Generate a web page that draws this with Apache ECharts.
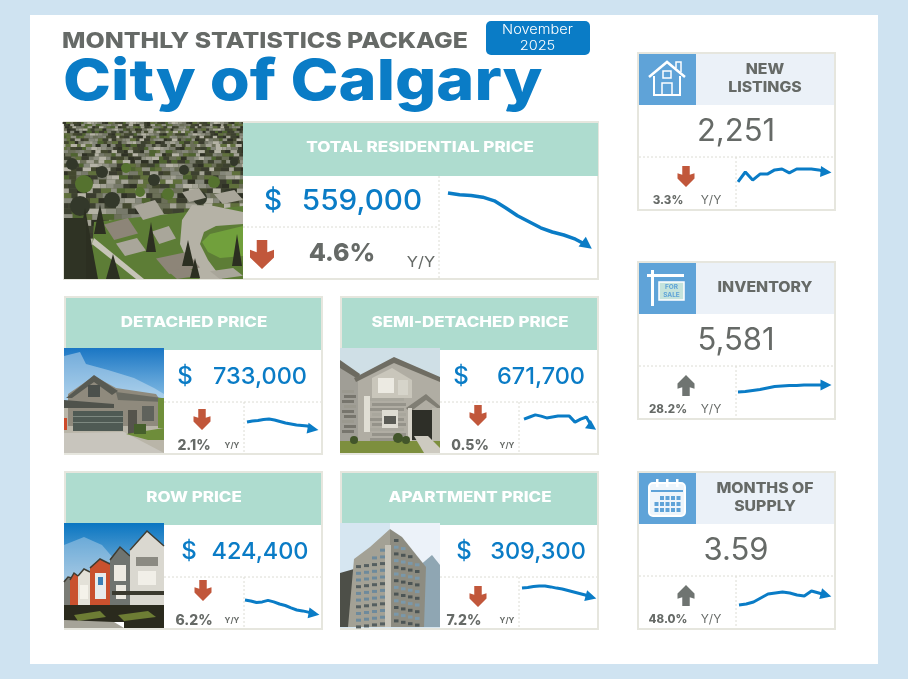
<!DOCTYPE html>
<html>
<head>
<meta charset="utf-8">
<style>
	html, body { margin: 0; padding: 0; background: #cfe3f1; }
	#chart { width: 908px; height: 679px; }
</style>
</head>
<body>
<div id="chart"></div>
<script src="https://cdn.jsdelivr.net/npm/echarts@6/dist/echarts.min.js"></script>
<script>
const months = ['Nov', 'Dec', 'Jan', 'Feb', 'Mar', 'Apr', 'May', 'Jun', 'Jul', 'Aug', 'Sep', 'Oct', 'Nov']

// trend lines have no printed scale, so these are levels read off each sparkline (0-100 of its box)
const totalTrend = [95, 92, 91, 88, 82, 70, 57, 47, 37, 30, 25, 18, 8]
const detachedTrend = [52, 56, 58, 62, 64, 60, 54, 48, 44, 40, 38, 36, 24]
const semiTrend = [53, 60, 67, 63, 57, 60, 63, 63, 63, 43, 53, 60, 27]
const rowTrend = [83, 80, 75, 77, 82, 77, 70, 65, 57, 50, 47, 43, 37]
const apartmentTrend = [73, 75, 78, 80, 80, 77, 73, 70, 65, 60, 55, 50, 43]
const listingsTrend = [27, 60, 33, 53, 53, 67, 70, 57, 70, 70, 70, 67, 60]
const inventoryTrend = [32, 34, 38, 42, 48, 54, 56, 58, 58, 60, 60, 60, 60]
const supplyTrend = [20, 24, 32, 48, 64, 68, 72, 68, 60, 56, 76, 68, 60]

const priceTitles = ['DETACHED PRICE', 'SEMI-DETACHED PRICE', 'ROW PRICE', 'APARTMENT PRICE']
const priceValues = ['733,000', '671,700', '424,400', '309,300']
const priceChanges = ['2.1%', '0.5%', '6.2%', '7.2%']

const statTitles = [['NEW', 'LISTINGS'], ['INVENTORY'], ['MONTHS OF', 'SUPPLY']]
const statValues = ['2,251', '5,581', '3.59']
const statChanges = ['3.3%', '28.2%', '48.0%']
const statDirections = ['down', 'up', 'up']

const BLUE = '#0a7cc6'
const GREY = '#666a67'
const RED = '#c1573b'
const TEAL = '#aedccf'
const RULE = '#dcdcd4'
const SANS = 'Inter, "Noto Sans", sans-serif'

const els = []

const rect = (x, y, width, height, fill, extra = {}) => {
	els.push({ type: 'rect', silent: true, shape: { x, y, width, height, r: extra.r || 0 }, style: { fill, stroke: extra.stroke, lineWidth: extra.lineWidth } })
}
const poly = (points, fill, opacity = 1) => {
	els.push({ type: 'polygon', silent: true, shape: { points }, style: { fill, opacity } })
}
const blob = (cx, cy, r, fill) => {
	els.push({ type: 'circle', silent: true, shape: { cx, cy, r }, style: { fill } })
}
const rule = (x1, y1, x2, y2) => {
	els.push({ type: 'line', silent: true, shape: { x1, y1, x2, y2 }, style: { stroke: RULE, lineWidth: 1, lineDash: [2, 2] } })
}
const stroke = (points, color, lineWidth = 2) => {
	els.push({ type: 'polyline', silent: true, shape: { points }, style: { stroke: color, lineWidth, fill: null } })
}
// sx stretches the glyphs, the original typeface is wider than anything installed
const text = (x, y, str, font, fill, textAlign = 'center', sx = 1) => {
	els.push({ type: 'text', silent: true, x, y: y + 1.5, scaleX: sx, style: { x: 0, y: 0, text: str, font, fill, textAlign, textVerticalAlign: 'middle' } })
}
const gradRect = (x, y, width, height, top, bottom) => {
	rect(x, y, width, height, { type: 'linear', x: 0, y: 0, x2: 0, y2: 1, colorStops: [{ offset: 0, color: top }, { offset: 1, color: bottom }] })
}

const bigArrow = (cx, top, w, h, direction, color) => {
	const s = w * 0.22
	const pts = [
		[cx - s, 0],
		[cx + s, 0],
		[cx + s, 0.42],
		[cx + w / 2, 0.34],
		[cx + w / 2, 0.6],
		[cx, 1],
		[cx - w / 2, 0.6],
		[cx - w / 2, 0.34],
		[cx - s, 0.42],
	]
	poly(pts.map((p) => [p[0], direction === 'down' ? top + p[1] * h : top + h - p[1] * h]), color)
}

// ---- photo sketches ----
const aerialPhoto = (x, y, w, h) => {
	rect(x, y, w, h, '#565c42')
	const tones = ['#3a3c2e', '#85877a', '#60703c', '#a3a295', '#43482f', '#77796a', '#4f6430', '#2f3125', '#b4b2a5', '#6b6f58', '#8f9082', '#3d4130']
	let top = 0
	let row = 0
	while (top < h) {
		const size = 2.6 + top * 0.05
		let dx = (row * 3) % 5 - 4
		let col = 0
		while (dx < w) {
			const tone = tones[(col * 7 + row * 11 + (col * row) % 5) % tones.length]
			const cw = size * (1 + ((col + row * 2) % 3) * 0.35)
			const left = Math.max(dx, 0)
			rect(x + left, y + top, Math.min(dx + cw, w) - left, Math.min(size * 0.8, h - top), tone)
			dx += cw
			col++
		}
		top += size * 0.8
		row++
	}
	// scattered tree canopies through the neighbourhood
	const canopies = [[20, 62, 9], [38, 50, 6], [8, 42, 6], [62, 46, 5], [90, 58, 6], [120, 48, 5], [150, 60, 6], [170, 40, 4], [48, 78, 8], [104, 72, 6], [136, 76, 7], [16, 84, 10], [76, 70, 5], [164, 72, 5]]
	canopies.forEach((c, i) => blob(x + c[0], y + c[1], c[2], i % 3 === 0 ? '#55722f' : '#33382a'))
	// lawn, crescent road and big roofs in the foreground
	poly([[x + 30, y + 100], [x + 179, y + 84], [x + 179, y + 157], [x + 26, y + 157]], '#5d7d36')
	poly([[x + 128, y + 83], [x + 150, y + 84], [x + 179, y + 90], [x + 179, y + 102], [x + 152, y + 104], [x + 140, y + 110], [x + 136, y + 122], [x + 144, y + 138], [x + 158, y + 157], [x + 136, y + 157], [x + 124, y + 140], [x + 116, y + 122], [x + 118, y + 98]], '#b5b2a6')
	poly([[x + 138, y + 120], [x + 146, y + 112], [x + 179, y + 104], [x + 179, y + 134], [x + 156, y + 136], [x + 144, y + 130]], '#71a03c')
	const roofs = [[70, 78, 30, 20], [40, 96, 34, 22], [52, 116, 30, 18], [88, 104, 24, 18], [92, 130, 44, 22], [118, 66, 24, 14], [150, 68, 29, 14], [104, 146, 30, 11], [146, 146, 33, 11]]
	roofs.forEach((r, i) => {
		poly([[x + r[0], y + r[1] + r[3] * 0.3], [x + r[0] + r[2] * 0.7, y + r[1]], [x + r[0] + r[2], y + r[1] + r[3] * 0.7], [x + r[0] + r[2] * 0.3, y + r[1] + r[3]]], i % 3 === 1 ? '#8d8578' : '#a9a69a')
	})
	poly([[x + 30, y + 116], [x + 80, y + 157], [x + 72, y + 157], [x + 28, y + 122]], '#c7c4b8')
	const trees = [[8, 86, 26, 71], [30, 82, 12, 30], [82, 100, 10, 30], [118, 118, 12, 26], [168, 112, 10, 32], [42, 132, 14, 25], [126, 136, 10, 20]]
	trees.forEach((t) => {
		poly([[x + t[0] + t[2] / 2, y + t[1]], [x + t[0] + t[2], y + t[1] + t[3]], [x + t[0], y + t[1] + t[3]]], '#2c2f21')
	})
	rect(x, y + 96, 22, 61, '#2f3324')
}

const detachedPhoto = (x, y, w, h) => {
	gradRect(x, y, w, 62, '#1a76c4', '#9ccbea')
	poly([[x, y + 8], [x + 16, y + 4], [x + 22, y + 16], [x + 44, y + 22], [x + 70, y + 30], [x + 90, y + 40], [x + 100, y + 46], [x + 100, y + 60], [x, y + 60]], '#d9e9f4', 0.45)
	rect(x, y + 58, w, 47, '#b9b5a8')
	poly([[x + 4, y + 46], [x + 30, y + 28], [x + 52, y + 40], [x + 92, y + 46], [x + 100, y + 58], [x + 100, y + 78], [x + 4, y + 78]], '#8f8a7d')
	poly([[x + 2, y + 50], [x + 30, y + 27], [x + 54, y + 43], [x + 48, y + 47], [x + 30, y + 34], [x + 8, y + 50]], '#585a52')
	poly([[x + 52, y + 44], [x + 98, y + 50], [x + 100, y + 54], [x + 54, y + 52]], '#6a6b62')
	poly([[x, y + 52], [x + 50, y + 56], [x + 50, y + 60], [x, y + 60]], '#4f524b')
	rect(x + 24, y + 37, 12, 12, '#4b504c')
	rect(x + 9, y + 63, 50, 20, '#4f5a54')
	rect(x + 9, y + 68, 50, 1, '#7d8880')
	rect(x + 9, y + 74, 50, 1, '#7d8880')
	rect(x + 64, y + 62, 9, 24, '#55544c')
	rect(x + 78, y + 58, 12, 15, '#5f625c')
	rect(x + 94, y + 50, 6, 30, '#6f8f3a')
	poly([[x, y + 85], [x + 60, y + 84], [x + 100, y + 105], [x, y + 105]], '#c8c5bd')
	poly([[x + 62, y + 86], [x + 100, y + 80], [x + 100, y + 92], [x + 84, y + 92]], '#6e8d3a')
	rect(x + 70, y + 76, 12, 10, '#46602c')
	rect(x, y + 70, 3, 12, '#cc4a2a')
}

const semiPhoto = (x, y, w, h) => {
	rect(x, y, w, h, '#cfdfe6')
	poly([[x + 16, y + 30], [x + 54, y + 10], [x + 100, y + 30], [x + 100, y + 95], [x + 16, y + 95]], '#b0ada3')
	poly([[x, y + 16], [x + 18, y + 28], [x + 18, y + 95], [x, y + 95]], '#a09e96')
	poly([[x, y + 12], [x + 20, y + 26], [x + 18, y + 31], [x, y + 20]], '#6c6a60')
	poly([[x + 14, y + 30], [x + 54, y + 9], [x + 100, y + 29], [x + 100, y + 34], [x + 54, y + 15], [x + 16, y + 34]], '#6f6d63')
	poly([[x + 32, y + 30], [x + 52, y + 20], [x + 72, y + 32], [x + 72, y + 50], [x + 32, y + 50]], '#c9c6bb')
	for (let i = 0; i < 9; i++) {
		rect(x + 30 + (i % 2) * 2, y + 50 + i * 5, 34, 3, i % 3 ? '#95938a' : '#a9a79d')
		rect(x + 2 + (i % 2) * 2, y + 42 + i * 5, 12, 3, i % 3 ? '#77756d' : '#9b998f')
	}
	rect(x + 38, y + 30, 16, 15, '#eceae2')
	rect(x + 58, y + 32, 10, 15, '#d6d4ca')
	rect(x + 42, y + 62, 16, 18, '#dedcd2')
	rect(x + 44, y + 68, 12, 8, '#5a5b55')
	rect(x + 24, y + 48, 6, 36, '#e0ded4')
	poly([[x + 66, y + 60], [x + 86, y + 46], [x + 100, y + 58], [x + 100, y + 62], [x + 86, y + 52], [x + 70, y + 64]], '#807e74')
	rect(x + 72, y + 62, 20, 30, '#2e2f28')
	rect(x + 68, y + 60, 4, 34, '#d5d2c8')
	rect(x + 92, y + 60, 8, 34, '#b9b7ac')
	rect(x, y + 93, w, 12, '#7d8f3e')
	poly([[x + 74, y + 88], [x + 88, y + 88], [x + 100, y + 100], [x + 100, y + 105], [x + 84, y + 105]], '#cdcac0')
	blob(x + 14, y + 92, 4, '#42552a')
	blob(x + 58, y + 90, 5, '#42552a')
	blob(x + 66, y + 92, 4, '#42552a')
}

const rowPhoto = (x, y, w, h) => {
	gradRect(x, y, w, 60, '#0a76c2', '#8cbadb')
	poly([[x, y + 22], [x + 20, y + 14], [x + 38, y + 22], [x + 50, y + 36], [x + 30, y + 50], [x, y + 56]], '#cfe2f0', 0.4)
	// units step down toward the left, nearest house on the right
	const units = [
		{ l: 0, r: 8, top: 58, peak: 54, color: '#7a7c76' },
		{ l: 6, r: 14, top: 56, peak: 50, color: '#c9512e' },
		{ l: 14, r: 26, top: 52, peak: 46, color: '#e3e1d8' },
		{ l: 26, r: 46, top: 44, peak: 36, color: '#c9512e' },
		{ l: 46, r: 66, top: 36, peak: 24, color: '#6f7470' },
		{ l: 66, r: 100, top: 26, peak: 8, color: '#dad8d0' },
	]
	units.forEach((u) => {
		const mid = (u.l + u.r) / 2
		poly([[x + u.l, y + u.top], [x + mid, y + u.peak], [x + u.r, y + u.top - 3], [x + u.r, y + 86], [x + u.l, y + 86]], u.color)
		stroke([[x + u.l, y + u.top + 1], [x + mid, y + u.peak], [x + u.r, y + u.top - 3]], '#3e3c32', 1.5)
	})
	rect(x + 31, y + 50, 11, 26, '#e8ecec')
	rect(x + 34, y + 54, 5, 8, '#3a7fb5')
	rect(x + 50, y + 42, 12, 16, '#eceae2')
	rect(x + 52, y + 62, 10, 14, '#eceae2')
	rect(x + 72, y + 34, 22, 9, '#8b8a82')
	rect(x + 74, y + 48, 18, 14, '#f1efe8')
	rect(x + 48, y + 68, 52, 4, '#3a3a2f')
	rect(x + 16, y + 62, 8, 14, '#f4f2ea')
	rect(x, y + 82, w, 17, '#2a2a1d')
	poly([[x + 10, y + 92], [x + 36, y + 88], [x + 42, y + 94], [x + 14, y + 98]], '#6d7d34')
	poly([[x + 54, y + 92], [x + 84, y + 88], [x + 92, y + 94], [x + 60, y + 98]], '#6d7d34')
	poly([[x, y + 97], [x + 50, y + 99], [x + 60, y + 105], [x, y + 105]], '#a5a398')
	rect(x + 60, y + 99, 40, 6, '#2a2a1d')
}

const apartmentPhoto = (x, y, w, h) => {
	rect(x, y, w, h, '#d6e6f1')
	rect(x + 50, y, 50, 44, '#ecf2f9')
	poly([[x + 78, y + 44], [x + 92, y + 32], [x + 100, y + 42], [x + 100, y + 104], [x + 78, y + 104]], '#8fa6b3')
	poly([[x, y + 50], [x + 14, y + 46], [x + 14, y + 104], [x, y + 104]], '#4d4f48')
	poly([[x + 14, y + 36], [x + 30, y + 24], [x + 50, y + 6], [x + 50, y + 104], [x + 8, y + 104]], '#a3a195')
	poly([[x + 50, y + 6], [x + 62, y + 14], [x + 86, y + 44], [x + 84, y + 104], [x + 50, y + 104]], '#8d8c81')
	// window grid on the two visible faces
	for (let f = 0; f < 13; f++) {
		const ly = y + 18 + f * 6.7
		for (let c = 0; c < 4; c++) {
			const lx = x + 16 + c * 8
			if (ly > y + 38 - c * 6) rect(lx, ly + 4 - c, 5, 3, f % 3 ? '#6d8a9c' : '#555f60')
		}
		for (let c = 0; c < 4; c++) {
			const rx = x + 54 + c * 7
			if (ly > y + 12 + c * 8) rect(rx, ly - 2 + c * 1.4, 4.5, 3, f % 2 ? '#7a98aa' : '#4c5555')
		}
	}
	rect(x + 45, y + 22, 6, 82, '#c7c4b9')
}

// ---- small pictograms for the stat cards ----
const houseIcon = (x, y) => {
	const c = '#ffffff'
	stroke([[x + 10, y + 23], [x + 28, y + 8], [x + 46, y + 23]], c, 2.5)
	stroke([[x + 15, y + 22], [x + 15, y + 41], [x + 41, y + 41], [x + 41, y + 22]], c, 2)
	stroke([[x + 37, y + 14], [x + 37, y + 8], [x + 42, y + 8], [x + 42, y + 18]], c, 1.5)
	els.push({ type: 'rect', silent: true, shape: { x: x + 24, y: y + 17, width: 8, height: 7 }, style: { fill: null, stroke: c, lineWidth: 1.5 } })
	els.push({ type: 'rect', silent: true, shape: { x: x + 23, y: y + 29, width: 10, height: 12 }, style: { fill: null, stroke: c, lineWidth: 1.5 } })
}
const saleIcon = (x, y) => {
	const c = '#ffffff'
	rect(x + 12, y + 7, 3, 36, c)
	rect(x + 8, y + 11, 37, 3, c)
	rect(x + 20, y + 19, 25, 18, '#c4e3dc', { stroke: c, lineWidth: 1.5 })
	els.push({ type: 'text', silent: true, style: { x: x + 32.5, y: y + 24, text: 'FOR', font: 'bold 6.5px ' + SANS, fill: '#5fa3d8', textAlign: 'center', textVerticalAlign: 'middle' } })
	els.push({ type: 'text', silent: true, style: { x: x + 32.5, y: y + 32, text: 'SALE', font: 'bold 6.5px ' + SANS, fill: '#5fa3d8', textAlign: 'center', textVerticalAlign: 'middle' } })
}
const calendarIcon = (x, y) => {
	const c = '#ffffff'
	els.push({ type: 'rect', silent: true, shape: { x: x + 10, y: y + 10, width: 36, height: 33, r: 4 }, style: { fill: '#eef5fb', stroke: c, lineWidth: 2 } })
	rect(x + 12, y + 17, 32, 2, '#5fa3d8')
	;[18, 28, 38].forEach((cx) => rect(x + cx - 1, y + 6, 2.5, 8, c))
	for (let i = 0; i < 5; i++) {
		for (let j = 0; j < 3; j++) {
			if (i > 0 || j > 0) rect(x + 15.5 + i * 5.5, y + 23 + j * 6, 4, 4, '#5fa3d8')
		}
	}
}

// ---- page frame and header ----
rect(30, 15, 848, 649, '#ffffff')
text(62, 40, 'MONTHLY STATISTICS PACKAGE', '800 22px ' + SANS, GREY, 'left', 1.13)
text(63, 81, 'City of Calgary', '800 57px ' + SANS, BLUE, 'left', 1.135)
rect(486, 21, 104, 34, BLUE, { r: 5 })
text(537.5, 29, 'November', '300 13px ' + SANS, '#ffffff', 'center', 1.12)
text(537.5, 45, '2025', '300 13px ' + SANS, '#ffffff', 'center', 1.12)

// ---- total residential card ----
rect(64, 122, 534, 157, '#ffffff', { stroke: '#e6e6de', lineWidth: 2 })
aerialPhoto(64, 122, 179, 157)
rect(243, 123, 355, 53, TEAL)
text(420, 146.5, 'TOTAL RESIDENTIAL PRICE', '800 14.5px ' + SANS, '#ffffff', 'center', 1.18)
text(273, 200, '$', '500 28px ' + SANS, BLUE)
text(362, 200, '559,000', '500 28px ' + SANS, BLUE, 'center', 1.06)
text(342, 252, '4.6%', '800 25px ' + SANS, GREY)
text(421, 261, 'Y/Y', '400 15px ' + SANS, GREY, 'center', 1.1)
rule(439, 176, 439, 278)
rule(243, 227, 439, 227)
bigArrow(262, 240, 24, 29, 'down', RED)

// ---- price cards ----
const priceCards = [
	{ x: 65, y: 297, photo: detachedPhoto, dollar: 185, num: 260, arrow: 202, pct: 194, arrowTop: 409, split: 244 },
	{ x: 341, y: 297, photo: semiPhoto, dollar: 461, num: 541, arrow: 478, pct: 470, arrowTop: 405, split: 519 },
	{ x: 65, y: 472, photo: rowPhoto, dollar: 189, num: 260, arrow: 203, pct: 194, arrowTop: 405, split: 244 },
	{ x: 341, y: 472, photo: apartmentPhoto, dollar: 464, num: 538, arrow: 478, pct: 464, arrowTop: 411, split: 519 },
]
priceCards.forEach((c, i) => {
	const dy = c.y - 297
	rect(c.x, c.y, 257, 157, '#ffffff', { stroke: '#e6e6de', lineWidth: 2 })
	rect(c.x + 1, c.y + 1, 255, 52, TEAL)
	text(c.x + 129, c.y + 24, priceTitles[i], '800 14.5px ' + SANS, '#ffffff', 'center', 1.17)
	c.photo(c.x - 1, c.y + 51, 100, 105)
	text(c.dollar, c.y + 78, '$', '500 24px ' + SANS, BLUE)
	text(c.num, c.y + 78, priceValues[i], '500 23.5px ' + SANS, BLUE)
	rule(c.x + 99, c.y + 105, c.x + 256, c.y + 105)
	rule(c.split, c.y + 105, c.split, c.y + 156)
	bigArrow(c.arrow, c.arrowTop + dy, 17, 21, 'down', RED)
	text(c.pct, c.y + 147, priceChanges[i], '800 14px ' + SANS, GREY)
	text(c.split - 12, c.y + 147, 'Y/Y', '700 8px ' + SANS, GREY)
})

// ---- stat cards ----
const statIcons = [houseIcon, saleIcon, calendarIcon]
const statTops = [53, 262, 472]
statTops.forEach((top, i) => {
	rect(638, top, 197, 157, '#ffffff', { stroke: '#e6e6de', lineWidth: 2 })
	rect(639, top + 1, 57, 51, '#5fa3d8')
	rect(696, top + 1, 138, 51, '#ebf1f8')
	statIcons[i](639, top + 1)
	const lines = statTitles[i]
	lines.forEach((line, j) => {
		const ly = lines.length === 1 ? top + 24 : top + 15 + j * 18.5
		text(765, ly, line, '800 14px ' + SANS, GREY, 'center', 1.13)
	})
	text(736, top + 77, statValues[i], '400 31px ' + SANS, GREY)
	rule(639, top + 104, 834, top + 104)
	rule(736, top + 104, 736, top + 156)
	bigArrow(686, top + 113, 17, 21, statDirections[i], statDirections[i] === 'down' ? RED : '#6f7471')
	text(668, top + 146, statChanges[i], '800 11.5px ' + SANS, GREY)
	text(711, top + 146, 'Y/Y', '400 12px ' + SANS, GREY)
})

// ---- sparklines ----
const sparkBoxes = [
	{ data: totalTrend, left: 448, top: 190, width: 139, height: 60, rotate: -127, size: 12, lw: 3.5 },
	{ data: detachedTrend, left: 247, top: 410, width: 66, height: 25, rotate: -100, size: 11, lw: 3 },
	{ data: semiTrend, left: 524, top: 405, width: 68, height: 30, rotate: -125, size: 10, lw: 3 },
	{ data: rowTrend, left: 245, top: 595, width: 69, height: 30, rotate: -100, size: 11, lw: 3 },
	{ data: apartmentTrend, left: 522, top: 580, width: 69, height: 30, rotate: -105, size: 11, lw: 3 },
	{ data: listingsTrend, left: 738, top: 160, width: 88, height: 30, rotate: -95, size: 11, lw: 3 },
	{ data: inventoryTrend, left: 738, top: 375, width: 88, height: 25, rotate: -90, size: 11, lw: 3 },
	{ data: supplyTrend, left: 739, top: 585, width: 87, height: 25, rotate: -105, size: 11, lw: 3 },
]

const chart = echarts.init(document.getElementById('chart'), null, { renderer: 'canvas' })

chart.setOption({
	animation: false,
	backgroundColor: '#cfe3f1',
	graphic: { elements: els },
	grid: sparkBoxes.map((b) => ({ left: b.left, top: b.top, width: b.width, height: b.height, containLabel: false })),
	xAxis: sparkBoxes.map((b, i) => ({ type: 'category', gridIndex: i, data: months, boundaryGap: false, show: false })),
	yAxis: sparkBoxes.map((b, i) => ({ type: 'value', gridIndex: i, min: 0, max: 100, show: false })),
	series: sparkBoxes.map((b, i) => ({
		type: 'line',
		xAxisIndex: i,
		yAxisIndex: i,
		data: b.data,
		showAllSymbol: true,
		symbol: (value, params) => (params.dataIndex === b.data.length - 1 ? 'triangle' : 'none'),
		symbolSize: b.size,
		symbolRotate: b.rotate,
		itemStyle: { color: BLUE },
		lineStyle: { color: BLUE, width: b.lw },
		silent: true,
	})),
})
</script>
</body>
</html>
